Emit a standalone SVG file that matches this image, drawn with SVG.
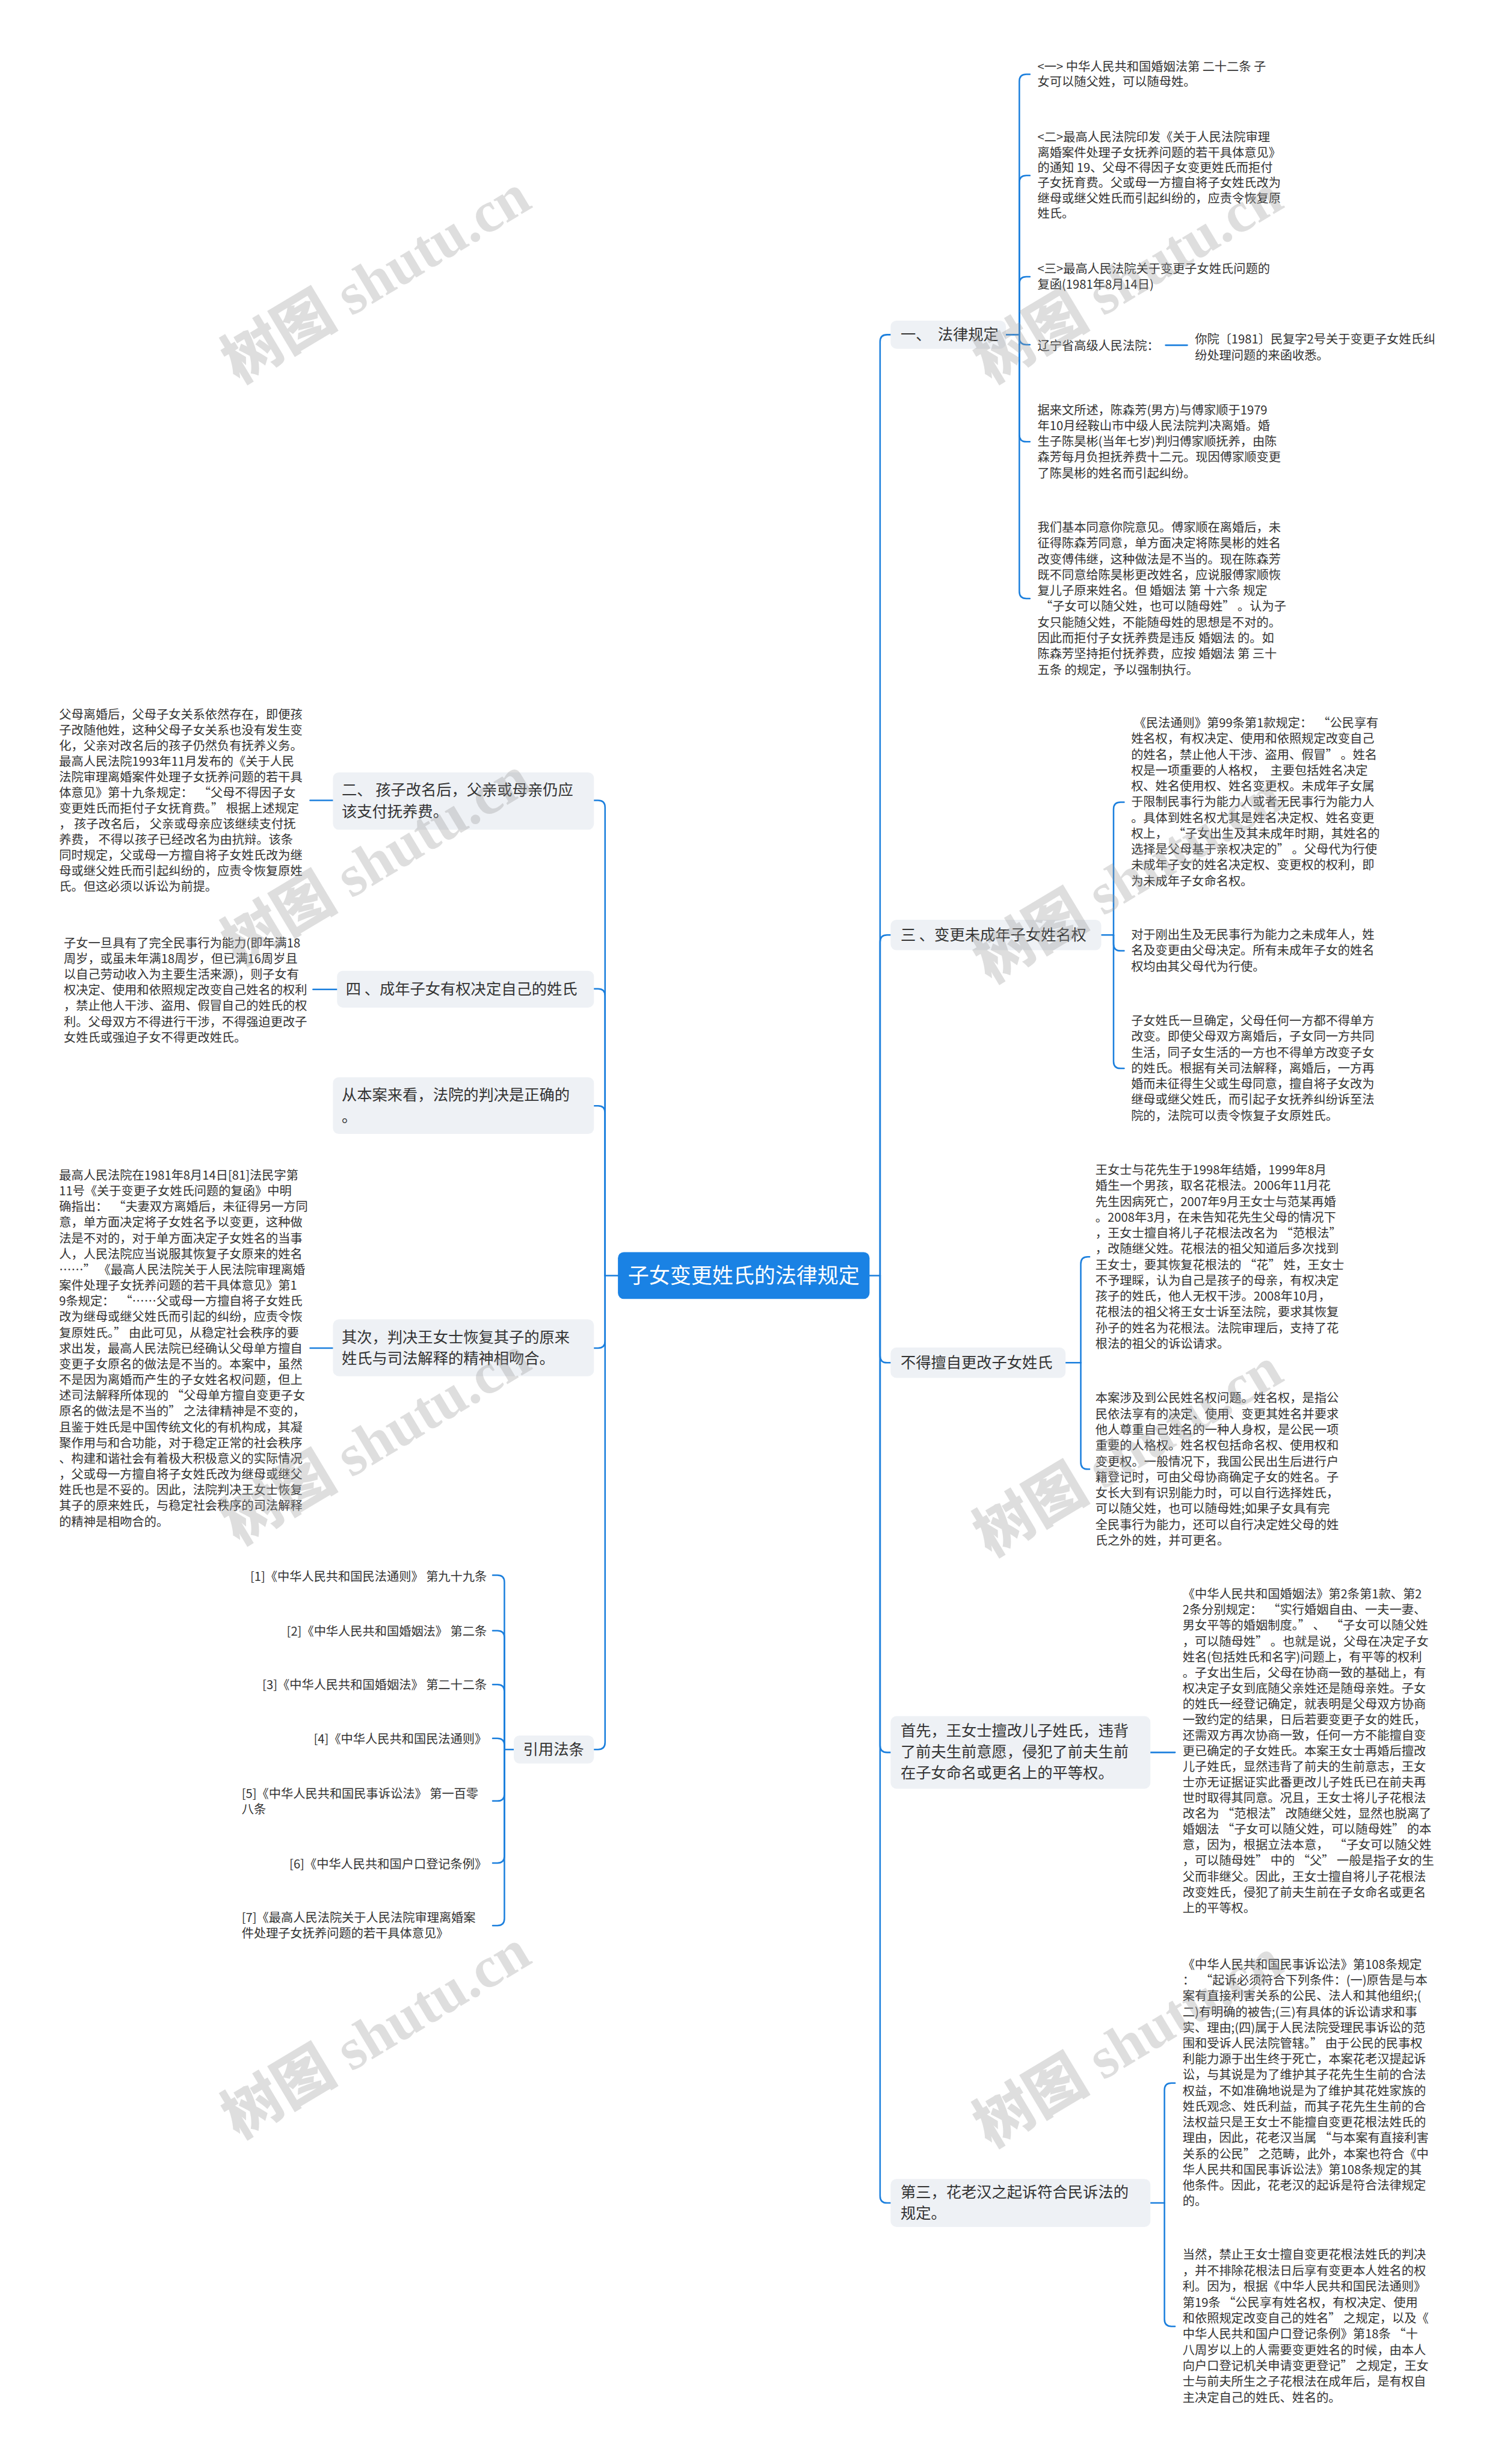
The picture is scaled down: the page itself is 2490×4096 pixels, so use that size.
<svg xmlns="http://www.w3.org/2000/svg" width="2490" height="4096" viewBox="0 0 2490 4096">
<defs>
<style>
text{font-family:"Noto Sans CJK SC","Noto Sans",sans-serif;white-space:pre}
.lf{font-size:20.8px;fill:#333}
.br{font-size:26px;fill:#333}
.ct{font-size:36px;fill:#fff}
.box{fill:#eef1f5}
.cbox{fill:#1a82e4}
.cn{fill:none;stroke:#1b7fdd;stroke-width:2.6;stroke-linecap:round;stroke-linejoin:round}
.wm{font-size:100px;fill:#9a9a9a;fill-opacity:0.33}
.wc{font-family:"Noto Sans CJK SC",sans-serif;font-weight:900}
.we{font-family:"Liberation Serif",serif;font-weight:bold}
</style>
</defs>
<rect width="2490" height="4096" fill="#fff"/>
<g transform="scale(0.97266)">

<g id="connectors">
<path class="cn" d="M1056 2180H1034"/>
<path class="cn" d="M1034 2180V1380Q1034 1368 1022 1368H1015"/>
<path class="cn" d="M1034 2180V1702Q1034 1690 1022 1690H1015"/>
<path class="cn" d="M1034 2180V1902Q1034 1890 1022 1890H1015"/>
<path class="cn" d="M1034 2180V2292Q1034 2304 1022 2304H1015"/>
<path class="cn" d="M1034 2180V2978Q1034 2990 1022 2990H1015"/>
<path class="cn" d="M569 1368H530"/>
<path class="cn" d="M576 1691H535"/>
<path class="cn" d="M569 2304H530"/>
<path class="cn" d="M878 2990H862"/>
<path class="cn" d="M862 2990V2704Q862 2692 850 2692H842"/>
<path class="cn" d="M862 2990V2799Q862 2787 850 2787H842"/>
<path class="cn" d="M862 2990V2891Q862 2879 850 2879H842"/>
<path class="cn" d="M862 2990V2983Q862 2971 850 2971H842"/>
<path class="cn" d="M862 2990V3066Q862 3078 850 3078H842"/>
<path class="cn" d="M862 2990V3172Q862 3184 850 3184H842"/>
<path class="cn" d="M862 2990V3279Q862 3291 850 3291H842"/>
<path class="cn" d="M1486 2180H1504"/>
<path class="cn" d="M1504 2180V584Q1504 572 1516 572H1522"/>
<path class="cn" d="M1504 2180V1610Q1504 1598 1516 1598H1522"/>
<path class="cn" d="M1504 2180V2317Q1504 2329 1516 2329H1522"/>
<path class="cn" d="M1504 2180V2983Q1504 2995 1516 2995H1522"/>
<path class="cn" d="M1504 2180V3753Q1504 3765 1516 3765H1522"/>
<path class="cn" d="M1719 572H1742"/>
<path class="cn" d="M1742 572V139Q1742 127 1754 127H1760"/>
<path class="cn" d="M1742 572V312Q1742 300 1754 300H1760"/>
<path class="cn" d="M1742 572V485Q1742 473 1754 473H1760"/>
<path class="cn" d="M1742 572V577Q1742 589 1754 589H1760"/>
<path class="cn" d="M1742 572V743Q1742 755 1754 755H1760"/>
<path class="cn" d="M1742 572V1011Q1742 1023 1754 1023H1760"/>
<path class="cn" d="M1992 590H2029"/>
<path class="cn" d="M1882 1598H1903"/>
<path class="cn" d="M1903 1598V1383Q1903 1371 1915 1371H1921"/>
<path class="cn" d="M1903 1598V1613Q1903 1625 1915 1625H1921"/>
<path class="cn" d="M1903 1598V1814Q1903 1826 1915 1826H1921"/>
<path class="cn" d="M1821 2329H1847"/>
<path class="cn" d="M1847 2329V2160Q1847 2148 1859 2148H1862"/>
<path class="cn" d="M1847 2329V2499Q1847 2511 1859 2511H1862"/>
<path class="cn" d="M1966 2995H2008"/>
<path class="cn" d="M1966 3765H1990"/>
<path class="cn" d="M1990 3765V3572Q1990 3560 2002 3560H2008"/>
<path class="cn" d="M1990 3765V3964Q1990 3976 2002 3976H2008"/>
</g>

<g id="center">
<rect class="cbox" x="1056" y="2140" width="430" height="80" rx="10"/>
<text class="ct" x="1271" y="2193" text-anchor="middle">子女变更姓氏的法律规定</text>
</g>

<g id="n-er">
<rect class="box" x="569" y="1320" width="446" height="98" rx="10"/>
<text class="br" x="584" y="1359"><tspan x="584" y="1359">二、 孩子改名后，父亲或母亲仍应</tspan><tspan x="584" y="1396">该支付抚养费。</tspan></text>
</g>
<g id="n-er-leaf">
<text class="lf" x="101" y="1229"><tspan x="101" y="1229">父母离婚后，父母子女关系依然存在，即便孩</tspan><tspan x="101" dy="26.7">子改随他姓，这种父母子女关系也没有发生变</tspan><tspan x="101" dy="26.7">化，父亲对改名后的孩子仍然负有抚养义务。</tspan><tspan x="101" dy="26.7">最高人民法院1993年11月发布的《关于人民</tspan><tspan x="101" dy="26.7">法院审理离婚案件处理子女抚养问题的若干具</tspan><tspan x="101" dy="26.7">体意见》第十九条规定：  “父母不得因子女</tspan><tspan x="101" dy="26.7">变更姓氏而拒付子女抚育费。” 根据上述规定</tspan><tspan x="101" dy="26.7">， 孩子改名后， 父亲或母亲应该继续支付抚</tspan><tspan x="101" dy="26.7">养费， 不得以孩子已经改名为由抗辩。该条</tspan><tspan x="101" dy="26.7">同时规定，父或母一方擅自将子女姓氏改为继</tspan><tspan x="101" dy="26.7">母或继父姓氏而引起纠纷的，应责令恢复原姓</tspan><tspan x="101" dy="26.7">氏。但这必须以诉讼为前提。</tspan></text>
</g>

<g id="n-si">
<rect class="box" x="576" y="1659" width="439" height="63" rx="10"/>
<text class="br" x="591" y="1699">四 、成年子女有权决定自己的姓氏</text>
</g>
<g id="n-si-leaf">
<text class="lf" x="109" y="1619"><tspan x="109" y="1619">子女一旦具有了完全民事行为能力(即年满18</tspan><tspan x="109" dy="26.9">周岁，或虽未年满18周岁，但已满16周岁且</tspan><tspan x="109" dy="26.9">以自己劳动收入为主要生活来源)，则子女有</tspan><tspan x="109" dy="26.9">权决定、使用和依照规定改变自己姓名的权利</tspan><tspan x="109" dy="26.9">，禁止他人干涉、盗用、假冒自己的姓氏的权</tspan><tspan x="109" dy="26.9">利。父母双方不得进行干涉，不得强迫更改子</tspan><tspan x="109" dy="26.9">女姓氏或强迫子女不得更改姓氏。</tspan></text>
</g>

<g id="n-cong">
<rect class="box" x="569" y="1841" width="446" height="97" rx="10"/>
<text class="br" x="584" y="1880"><tspan x="584" y="1880">从本案来看，法院的判决是正确的</tspan><tspan x="584" y="1917">。</tspan></text>
</g>

<g id="n-qici">
<rect class="box" x="569" y="2255" width="446" height="97" rx="10"/>
<text class="br" x="584" y="2295"><tspan x="584" y="2295">其次，判决王女士恢复其子的原来</tspan><tspan x="584" y="2331">姓氏与司法解释的精神相吻合。</tspan></text>
</g>
<g id="n-qici-leaf">
<text class="lf" x="101" y="2016"><tspan x="101" y="2016">最高人民法院在1981年8月14日[81]法民字第</tspan><tspan x="101" dy="26.9">11号《关于变更子女姓氏问题的复函》中明</tspan><tspan x="101" dy="26.9">确指出：  “夫妻双方离婚后，未征得另一方同</tspan><tspan x="101" dy="26.9">意，单方面决定将子女姓名予以变更，这种做</tspan><tspan x="101" dy="26.9">法是不对的，对于单方面决定子女姓名的当事</tspan><tspan x="101" dy="26.9">人，人民法院应当说服其恢复子女原来的姓名</tspan><tspan x="101" dy="26.9">……” 《最高人民法院关于人民法院审理离婚</tspan><tspan x="101" dy="26.9">案件处理子女抚养问题的若干具体意见》第1</tspan><tspan x="101" dy="26.9">9条规定：  “……父或母一方擅自将子女姓氏</tspan><tspan x="101" dy="26.9">改为继母或继父姓氏而引起的纠纷，应责令恢</tspan><tspan x="101" dy="26.9">复原姓氏。” 由此可见，从稳定社会秩序的要</tspan><tspan x="101" dy="26.9">求出发，最高人民法院已经确认父母单方擅自</tspan><tspan x="101" dy="26.9">变更子女原名的做法是不当的。本案中，虽然</tspan><tspan x="101" dy="26.9">不是因为离婚而产生的子女姓名权问题，但上</tspan><tspan x="101" dy="26.9">述司法解释所体现的 “父母单方擅自变更子女</tspan><tspan x="101" dy="26.9">原名的做法是不当的” 之法律精神是不变的，</tspan><tspan x="101" dy="26.9">且鉴于姓氏是中国传统文化的有机构成，其凝</tspan><tspan x="101" dy="26.9">聚作用与和合功能，对于稳定正常的社会秩序</tspan><tspan x="101" dy="26.9">、构建和谐社会有着极大积极意义的实际情况</tspan><tspan x="101" dy="26.9">，父或母一方擅自将子女姓氏改为继母或继父</tspan><tspan x="101" dy="26.9">姓氏也是不妥的。因此，法院判决王女士恢复</tspan><tspan x="101" dy="26.9">其子的原来姓氏，与稳定社会秩序的司法解释</tspan><tspan x="101" dy="26.9">的精神是相吻合的。</tspan></text>
</g>

<g id="n-yinyong">
<rect class="box" x="878" y="2966" width="137" height="48" rx="10"/>
<text class="br" x="946" y="2999" text-anchor="middle">引用法条</text>
</g>
<g id="n-refs">
<text class="lf" x="832" y="2702" text-anchor="end">[1]《中华人民共和国民法通则》 第九十九条</text>
<text class="lf" x="832" y="2795" text-anchor="end">[2]《中华人民共和国婚姻法》 第二条</text>
<text class="lf" x="832" y="2887" text-anchor="end">[3]《中华人民共和国婚姻法》 第二十二条</text>
<text class="lf" x="832" y="2979" text-anchor="end">[4]《中华人民共和国民法通则》</text>
<text class="lf" x="413" y="3073"><tspan x="413" y="3073">[5]《中华人民共和国民事诉讼法》 第一百零</tspan><tspan x="413" dy="27">八条</tspan></text>
<text class="lf" x="832" y="3193" text-anchor="end">[6]《中华人民共和国户口登记条例》</text>
<text class="lf" x="413" y="3285"><tspan x="413" y="3285">[7]《最高人民法院关于人民法院审理离婚案</tspan><tspan x="413" dy="27">件处理子女抚养问题的若干具体意见》</tspan></text>
</g>

<g id="n-falv">
<rect class="box" x="1522" y="548" width="197" height="48" rx="10"/>
<text class="br" x="1539" y="581">一、  法律规定</text>
</g>
<g id="n-falv-leaves">
<text class="lf" x="1773" y="121"><tspan x="1773" y="121">&lt;一&gt; 中华人民共和国婚姻法第 二十二条 子</tspan><tspan x="1773" dy="26">女可以随父姓，可以随母姓。</tspan></text>
<text class="lf" x="1773" y="242"><tspan x="1773" y="242">&lt;二&gt;最高人民法院印发《关于人民法院审理</tspan><tspan x="1773" dy="26">离婚案件处理子女抚养问题的若干具体意见》</tspan><tspan x="1773" dy="26">的通知 19、父母不得因子女变更姓氏而拒付</tspan><tspan x="1773" dy="26">子女抚育费。父或母一方擅自将子女姓氏改为</tspan><tspan x="1773" dy="26">继母或继父姓氏而引起纠纷的，应责令恢复原</tspan><tspan x="1773" dy="26">姓氏。</tspan></text>
<text class="lf" x="1773" y="467"><tspan x="1773" y="467">&lt;三&gt;最高人民法院关于变更子女姓氏问题的</tspan><tspan x="1773" dy="27">复函(1981年8月14日)</tspan></text>
<text class="lf" x="1773" y="598">辽宁省高级人民法院：</text>
<text class="lf" x="2042" y="587"><tspan x="2042" y="587">你院〔1981〕民复字2号关于变更子女姓氏纠</tspan><tspan x="2042" dy="28">纷处理问题的来函收悉。</tspan></text>
<text class="lf" x="1773" y="708"><tspan x="1773" y="708">据来文所述，陈森芳(男方)与傅家顺于1979</tspan><tspan x="1773" dy="27">年10月经鞍山市中级人民法院判决离婚。婚</tspan><tspan x="1773" dy="27">生子陈昊彬(当年七岁)判归傅家顺抚养，由陈</tspan><tspan x="1773" dy="27">森芳每月负担抚养费十二元。现因傅家顺变更</tspan><tspan x="1773" dy="27">了陈昊彬的姓名而引起纠纷。</tspan></text>
<text class="lf" x="1773" y="909"><tspan x="1773" y="909">我们基本同意你院意见。傅家顺在离婚后，未</tspan><tspan x="1773" dy="27">征得陈森芳同意，单方面决定将陈昊彬的姓名</tspan><tspan x="1773" dy="27">改变傅伟继，这种做法是不当的。现在陈森芳</tspan><tspan x="1773" dy="27">既不同意给陈昊彬更改姓名，应说服傅家顺恢</tspan><tspan x="1773" dy="27">复儿子原来姓名。但 婚姻法 第 十六条 规定</tspan><tspan x="1773" dy="27"> “子女可以随父姓，也可以随母姓” 。认为子</tspan><tspan x="1773" dy="27">女只能随父姓，不能随母姓的思想是不对的。</tspan><tspan x="1773" dy="27">因此而拒付子女抚养费是违反 婚姻法 的。如</tspan><tspan x="1773" dy="27">陈森芳坚持拒付抚养费，应按 婚姻法 第 三十</tspan><tspan x="1773" dy="27">五条 的规定，予以强制执行。</tspan></text>
</g>

<g id="n-san">
<rect class="box" x="1522" y="1572" width="360" height="52" rx="10"/>
<text class="br" x="1539" y="1607">三 、变更未成年子女姓名权</text>
</g>
<g id="n-san-leaves">
<text class="lf" x="1933" y="1243"><tspan x="1933" y="1243"> 《民法通则》第99条第1款规定：  “公民享有</tspan><tspan x="1933" dy="27">姓名权，有权决定、使用和依照规定改变自己</tspan><tspan x="1933" dy="27">的姓名，禁止他人干涉、盗用、假冒” 。姓名</tspan><tspan x="1933" dy="27">权是一项重要的人格权，  主要包括姓名决定</tspan><tspan x="1933" dy="27">权、姓名使用权、姓名变更权。未成年子女属</tspan><tspan x="1933" dy="27">于限制民事行为能力人或者无民事行为能力人</tspan><tspan x="1933" dy="27">。具体到姓名权尤其是姓名决定权、姓名变更</tspan><tspan x="1933" dy="27">权上，  “子女出生及其未成年时期，其姓名的</tspan><tspan x="1933" dy="27">选择是父母基于亲权决定的” 。父母代为行使</tspan><tspan x="1933" dy="27">未成年子女的姓名决定权、变更权的权利，即</tspan><tspan x="1933" dy="27">为未成年子女命名权。</tspan></text>
<text class="lf" x="1933" y="1605"><tspan x="1933" y="1605">对于刚出生及无民事行为能力之未成年人，姓</tspan><tspan x="1933" dy="27">名及变更由父母决定。所有未成年子女的姓名</tspan><tspan x="1933" dy="27">权均由其父母代为行使。</tspan></text>
<text class="lf" x="1933" y="1752"><tspan x="1933" y="1752">子女姓氏一旦确定，父母任何一方都不得单方</tspan><tspan x="1933" dy="27">改变。即使父母双方离婚后，子女同一方共同</tspan><tspan x="1933" dy="27">生活，同子女生活的一方也不得单方改变子女</tspan><tspan x="1933" dy="27">的姓氏。根据有关司法解释，离婚后，一方再</tspan><tspan x="1933" dy="27">婚而未征得生父或生母同意，擅自将子女改为</tspan><tspan x="1933" dy="27">继母或继父姓氏，而引起子女抚养纠纷诉至法</tspan><tspan x="1933" dy="27">院的，法院可以责令恢复子女原姓氏。</tspan></text>
</g>

<g id="n-bude">
<rect class="box" x="1522" y="2303" width="299" height="52" rx="10"/>
<text class="br" x="1539" y="2338">不得擅自更改子女姓氏</text>
</g>
<g id="n-bude-leaves">
<text class="lf" x="1872" y="2007"><tspan x="1872" y="2007">王女士与花先生于1998年结婚，1999年8月</tspan><tspan x="1872" dy="27">婚生一个男孩，取名花根法。2006年11月花</tspan><tspan x="1872" dy="27">先生因病死亡，2007年9月王女士与范某再婚</tspan><tspan x="1872" dy="27">。2008年3月，在未告知花先生父母的情况下</tspan><tspan x="1872" dy="27">，王女士擅自将儿子花根法改名为 “范根法”</tspan><tspan x="1872" dy="27">，改随继父姓。花根法的祖父知道后多次找到</tspan><tspan x="1872" dy="27">王女士，要其恢复花根法的 “花” 姓，王女士</tspan><tspan x="1872" dy="27">不予理睬，认为自己是孩子的母亲，有权决定</tspan><tspan x="1872" dy="27">孩子的姓氏，他人无权干涉。2008年10月，</tspan><tspan x="1872" dy="27">花根法的祖父将王女士诉至法院，要求其恢复</tspan><tspan x="1872" dy="27">孙子的姓名为花根法。法院审理后，支持了花</tspan><tspan x="1872" dy="27">根法的祖父的诉讼请求。</tspan></text>
<text class="lf" x="1872" y="2397"><tspan x="1872" y="2397">本案涉及到公民姓名权问题。姓名权，是指公</tspan><tspan x="1872" dy="27">民依法享有的决定、使用、变更其姓名并要求</tspan><tspan x="1872" dy="27">他人尊重自己姓名的一种人身权，是公民一项</tspan><tspan x="1872" dy="27">重要的人格权。姓名权包括命名权、使用权和</tspan><tspan x="1872" dy="27">变更权。一般情况下，我国公民出生后进行户</tspan><tspan x="1872" dy="27">籍登记时，可由父母协商确定子女的姓名。子</tspan><tspan x="1872" dy="27">女长大到有识别能力时，可以自行选择姓氏，</tspan><tspan x="1872" dy="27">可以随父姓，也可以随母姓;如果子女具有完</tspan><tspan x="1872" dy="27">全民事行为能力，还可以自行决定姓父母的姓</tspan><tspan x="1872" dy="27">氏之外的姓，并可更名。</tspan></text>
</g>

<g id="n-shouxian">
<rect class="box" x="1522" y="2933" width="444" height="124" rx="10"/>
<text class="br" x="1539" y="2967"><tspan x="1539" y="2967">首先，王女士擅改儿子姓氏，违背</tspan><tspan x="1539" dy="36">了前夫生前意愿，侵犯了前夫生前</tspan><tspan x="1539" dy="36">在子女命名或更名上的平等权。</tspan></text>
</g>
<g id="n-shouxian-leaf">
<text class="lf" x="2021" y="2732"><tspan x="2021" y="2732">《中华人民共和国婚姻法》第2条第1款、第2</tspan><tspan x="2021" dy="26.8">2条分别规定：  “实行婚姻自由、一夫一妻、</tspan><tspan x="2021" dy="26.8">男女平等的婚姻制度。” 、  “子女可以随父姓</tspan><tspan x="2021" dy="26.8">，可以随母姓” 。也就是说，父母在决定子女</tspan><tspan x="2021" dy="26.8">姓名(包括姓氏和名字)问题上，有平等的权利</tspan><tspan x="2021" dy="26.8">。子女出生后，父母在协商一致的基础上，有</tspan><tspan x="2021" dy="26.8">权决定子女到底随父亲姓还是随母亲姓。子女</tspan><tspan x="2021" dy="26.8">的姓氏一经登记确定，就表明是父母双方协商</tspan><tspan x="2021" dy="26.8">一致约定的结果，日后若要变更子女的姓氏，</tspan><tspan x="2021" dy="26.8">还需双方再次协商一致，任何一方不能擅自变</tspan><tspan x="2021" dy="26.8">更已确定的子女姓氏。本案王女士再婚后擅改</tspan><tspan x="2021" dy="26.8">儿子姓氏，显然违背了前夫的生前意志，王女</tspan><tspan x="2021" dy="26.8">士亦无证据证实此番更改儿子姓氏已在前夫再</tspan><tspan x="2021" dy="26.8">世时取得其同意。况且，王女士将儿子花根法</tspan><tspan x="2021" dy="26.8">改名为 “范根法” 改随继父姓，显然也脱离了</tspan><tspan x="2021" dy="26.8">婚姻法 “子女可以随父姓，可以随母姓” 的本</tspan><tspan x="2021" dy="26.8">意，因为，根据立法本意，  “子女可以随父姓</tspan><tspan x="2021" dy="26.8">，可以随母姓” 中的 “父” 一般是指子女的生</tspan><tspan x="2021" dy="26.8">父而非继父。因此，王女士擅自将儿子花根法</tspan><tspan x="2021" dy="26.8">改变姓氏，侵犯了前夫生前在子女命名或更名</tspan><tspan x="2021" dy="26.8">上的平等权。</tspan></text>
</g>

<g id="n-disan">
<rect class="box" x="1522" y="3724" width="444" height="82" rx="10"/>
<text class="br" x="1539" y="3756"><tspan x="1539" y="3756">第三，花老汉之起诉符合民诉法的</tspan><tspan x="1539" dy="36">规定。</tspan></text>
</g>
<g id="n-disan-leaves">
<text class="lf" x="2021" y="3365"><tspan x="2021" y="3365">《中华人民共和国民事诉讼法》第108条规定</tspan><tspan x="2021" dy="26.95">：  “起诉必须符合下列条件：(一)原告是与本</tspan><tspan x="2021" dy="26.95">案有直接利害关系的公民、法人和其他组织;(</tspan><tspan x="2021" dy="26.95">二)有明确的被告;(三)有具体的诉讼请求和事</tspan><tspan x="2021" dy="26.95">实、理由;(四)属于人民法院受理民事诉讼的范</tspan><tspan x="2021" dy="26.95">围和受诉人民法院管辖。” 由于公民的民事权</tspan><tspan x="2021" dy="26.95">利能力源于出生终于死亡，本案花老汉提起诉</tspan><tspan x="2021" dy="26.95">讼，与其说是为了维护其子花先生生前的合法</tspan><tspan x="2021" dy="26.95">权益，不如准确地说是为了维护其花姓家族的</tspan><tspan x="2021" dy="26.95">姓氏观念、姓氏利益，而其子花先生生前的合</tspan><tspan x="2021" dy="26.95">法权益只是王女士不能擅自变更花根法姓氏的</tspan><tspan x="2021" dy="26.95">理由，因此，花老汉当属 “与本案有直接利害</tspan><tspan x="2021" dy="26.95">关系的公民” 之范畴，此外，本案也符合《中</tspan><tspan x="2021" dy="26.95">华人民共和国民事诉讼法》第108条规定的其</tspan><tspan x="2021" dy="26.95">他条件。因此，花老汉的起诉是符合法律规定</tspan><tspan x="2021" dy="26.95">的。</tspan></text>
<text class="lf" x="2021" y="3861"><tspan x="2021" y="3861">当然，禁止王女士擅自变更花根法姓氏的判决</tspan><tspan x="2021" dy="27.1">，并不排除花根法日后享有变更本人姓名的权</tspan><tspan x="2021" dy="27.1">利。因为，根据《中华人民共和国民法通则》</tspan><tspan x="2021" dy="27.1">第19条 “公民享有姓名权，有权决定、使用</tspan><tspan x="2021" dy="27.1">和依照规定改变自己的姓名” 之规定，以及《</tspan><tspan x="2021" dy="27.1">中华人民共和国户口登记条例》第18条 “十</tspan><tspan x="2021" dy="27.1">八周岁以上的人需要变更姓名的时候，由本人</tspan><tspan x="2021" dy="27.1">向户口登记机关申请变更登记” 之规定，王女</tspan><tspan x="2021" dy="27.1">士与前夫所生之子花根法在成年后，是有权自</tspan><tspan x="2021" dy="27.1">主决定自己的姓氏、姓名的。</tspan></text>
</g>

<g id="watermarks">
<text class="wm" text-anchor="middle" transform="translate(660,505) rotate(-31)"><tspan class="wc">树图</tspan><tspan class="we"> shutu.cn</tspan></text>
<text class="wm" text-anchor="middle" transform="translate(1945,505) rotate(-31)"><tspan class="wc">树图</tspan><tspan class="we"> shutu.cn</tspan></text>
<text class="wm" text-anchor="middle" transform="translate(660,1500) rotate(-31)"><tspan class="wc">树图</tspan><tspan class="we"> shutu.cn</tspan></text>
<text class="wm" text-anchor="middle" transform="translate(1945,1530) rotate(-31)"><tspan class="wc">树图</tspan><tspan class="we"> shutu.cn</tspan></text>
<text class="wm" text-anchor="middle" transform="translate(660,2490) rotate(-31)"><tspan class="wc">树图</tspan><tspan class="we"> shutu.cn</tspan></text>
<text class="wm" text-anchor="middle" transform="translate(1945,2510) rotate(-31)"><tspan class="wc">树图</tspan><tspan class="we"> shutu.cn</tspan></text>
<text class="wm" text-anchor="middle" transform="translate(660,3505) rotate(-31)"><tspan class="wc">树图</tspan><tspan class="we"> shutu.cn</tspan></text>
<text class="wm" text-anchor="middle" transform="translate(1945,3520) rotate(-31)"><tspan class="wc">树图</tspan><tspan class="we"> shutu.cn</tspan></text>
</g>

</g>
</svg>
